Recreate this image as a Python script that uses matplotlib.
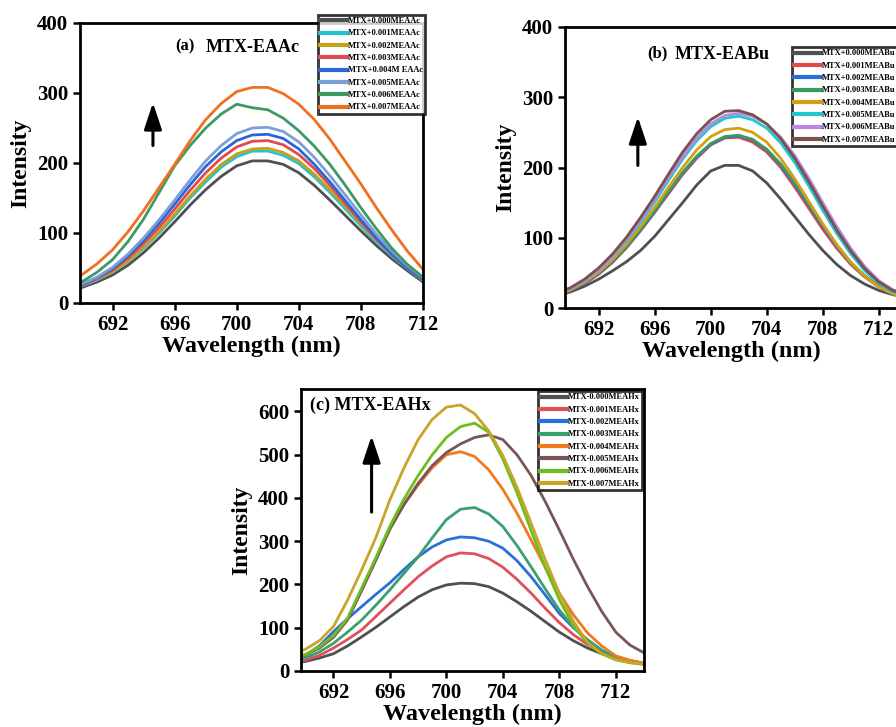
import numpy as np
import matplotlib
matplotlib.use('Agg')
import matplotlib.pyplot as plt

plt.rcParams['font.family'] = ['Liberation Serif', 'DejaVu Serif']
plt.rcParams['font.weight'] = 'bold'

# ---- panel (a): MTX-EAAc ----
wl_a = np.arange(689, 714)
a_labels = ['MTX+0.000MEAAc', 'MTX+0.001MEAAc', 'MTX+0.002MEAAc', 'MTX+0.003MEAAc',
            'MTX+0.004M EAAc', 'MTX+0.005MEAAc', 'MTX+0.006MEAAc', 'MTX+0.007MEAAc']
a_colors = ['#505050', '#22c4d0', '#c8a018', '#e04a50', '#2a66d6', '#7ba0d8', '#3e9a64', '#f07020']
a_000 = [15, 22, 30, 40, 54, 72, 93, 116, 140, 162, 181, 196, 203, 203, 198, 186, 168, 147, 125, 103, 82, 63, 46, 30, 20]
a_001 = [16, 24, 33, 44, 59, 78, 100, 124, 150, 173, 194, 209, 217, 217, 211, 199, 180, 158, 134, 110, 87, 67, 49, 32, 21]
a_002 = [17, 25, 34, 45, 60, 80, 102, 127, 153, 177, 198, 213, 220, 221, 215, 203, 184, 162, 138, 114, 90, 69, 50, 33, 22]
a_003 = [17, 25, 35, 47, 64, 85, 108, 134, 161, 186, 207, 223, 231, 232, 226, 212, 192, 168, 142, 116, 91, 69, 50, 33, 22]
a_004 = [18, 26, 36, 49, 67, 89, 114, 141, 169, 195, 216, 232, 240, 241, 235, 220, 198, 173, 146, 119, 93, 70, 50, 34, 23]
a_005 = [18, 27, 37, 51, 70, 93, 119, 147, 176, 203, 225, 242, 250, 251, 245, 230, 208, 182, 154, 126, 98, 74, 53, 36, 24]
a_006 = [22, 30, 44, 62, 88, 120, 158, 196, 225, 250, 270, 284, 279, 276, 264, 246, 224, 198, 168, 136, 106, 78, 55, 37, 26]
a_007 = [32, 40, 56, 76, 102, 132, 165, 198, 232, 262, 285, 302, 308, 308, 299, 284, 262, 234, 202, 170, 136, 104, 74, 48, 33]
a_series = [a_000, a_001, a_002, a_003, a_004, a_005, a_006, a_007]

# ---- panel (b): MTX-EABu ----
wl_b = np.arange(689, 715)
b_labels = ['MTX+0.000MEABu', 'MTX+0.001MEABu', 'MTX+0.002MEABu', 'MTX+0.003MEABu',
            'MTX+0.004MEABu', 'MTX+0.005MEABu', 'MTX+0.006MEABu', 'MTX+0.007MEABu']
b_colors = ['#505050', '#e04a4a', '#2a6fd8', '#3a9a60', '#d4a012', '#20c8cc', '#b888e0', '#7a5050']
b_000 = [17, 23, 31, 41, 53, 66, 82, 102, 126, 150, 175, 195, 203, 203, 195, 178, 155, 130, 105, 82, 62, 46, 34, 25, 19, 15]
b_001 = [18, 25, 35, 48, 65, 86, 110, 136, 163, 190, 213, 232, 242, 243, 236, 222, 200, 172, 142, 112, 85, 62, 44, 30, 21, 16]
b_002 = [18, 25, 35, 49, 66, 87, 111, 137, 165, 192, 215, 233, 243, 245, 239, 225, 203, 176, 146, 116, 88, 64, 45, 31, 21, 16]
b_003 = [19, 26, 36, 50, 67, 88, 112, 138, 166, 193, 216, 234, 244, 246, 240, 226, 205, 178, 148, 118, 90, 65, 46, 31, 21, 16]
b_004 = [19, 26, 37, 51, 69, 91, 116, 143, 172, 200, 225, 244, 254, 256, 250, 236, 213, 184, 152, 120, 90, 65, 45, 30, 20, 15]
b_005 = [20, 28, 39, 54, 73, 96, 122, 151, 182, 212, 238, 258, 270, 273, 268, 256, 235, 207, 174, 139, 106, 77, 53, 35, 23, 17]
b_006 = [20, 28, 39, 54, 74, 98, 125, 155, 186, 216, 242, 262, 274, 277, 273, 262, 243, 217, 185, 150, 116, 85, 59, 39, 26, 19]
b_007 = [21, 29, 41, 57, 77, 101, 129, 159, 191, 222, 248, 268, 280, 281, 275, 262, 241, 213, 180, 145, 111, 81, 56, 37, 25, 18]
b_series = [b_000, b_001, b_002, b_003, b_004, b_005, b_006, b_007]

# ---- panel (c): MTX-EAHx ----
wl_c = np.arange(689, 716)
c_labels = ['MTX-0.000MEAHx', 'MTX-0.001MEAHx', 'MTX-0.002MEAHx', 'MTX-0.003MEAHx',
            'MTX-0.004MEAHx', 'MTX-0.005MEAHx', 'MTX-0.006MEAHx', 'MTX-0.007MEAHx']
c_colors = ['#505050', '#e0505a', '#2a70d8', '#3aa070', '#f07a20', '#7a5555', '#6cbf1f', '#c8a42a']
c_000 = [18, 22, 30, 40, 58, 79, 101, 125, 149, 171, 188, 199, 203, 202, 195, 180, 160, 138, 114, 90, 70, 53, 40, 30, 22, 17, 14]
c_001 = [20, 25, 36, 53, 73, 95, 126, 157, 188, 218, 243, 264, 273, 271, 260, 240, 212, 180, 145, 112, 84, 61, 44, 32, 24, 18, 14]
c_002 = [26, 36, 58, 91, 121, 149, 177, 204, 235, 264, 287, 303, 310, 308, 300, 284, 255, 218, 176, 133, 100, 72, 48, 31, 22, 16, 12]
c_003 = [22, 30, 44, 64, 90, 118, 152, 188, 226, 264, 308, 350, 374, 378, 363, 334, 290, 241, 190, 141, 102, 72, 48, 31, 22, 16, 12]
c_004 = [28, 38, 55, 80, 120, 188, 258, 330, 385, 430, 470, 500, 507, 496, 465, 420, 365, 303, 240, 180, 130, 88, 58, 35, 25, 18, 14]
c_005 = [27, 37, 53, 78, 118, 186, 256, 328, 385, 434, 475, 505, 525, 540, 546, 535, 500, 452, 392, 326, 258, 195, 138, 90, 60, 42, 30]
c_006 = [28, 38, 56, 82, 122, 192, 262, 335, 398, 452, 500, 540, 565, 573, 552, 490, 412, 325, 240, 165, 105, 64, 40, 26, 19, 15, 12]
c_007 = [38, 50, 70, 103, 164, 234, 308, 396, 470, 535, 582, 610, 615, 595, 555, 498, 425, 342, 258, 180, 115, 66, 40, 26, 20, 16, 13]
c_series = [c_000, c_001, c_002, c_003, c_004, c_005, c_006, c_007]

W, H = 896, 727
fig = plt.figure(figsize=(W / 100, H / 100), dpi=100)


def px_axes(left, top, right, bottom):
    return fig.add_axes([left / W, 1 - bottom / H, (right - left) / W, (bottom - top) / H])


def style_axes(ax, xlim, ylim, yticks):
    ax.set_xlim(*xlim)
    ax.set_ylim(*ylim)
    ax.set_xticks([692, 696, 700, 704, 708, 712])
    ax.set_yticks(yticks)
    for sp in ax.spines.values():
        sp.set_linewidth(2)
    ax.tick_params(direction='out', length=5, width=1.8, labelsize=15)
    for lab in ax.get_xticklabels() + ax.get_yticklabels():
        lab.set_fontweight('bold')
    ax.set_xlabel('Wavelength (nm)', fontsize=17.5, fontweight='bold', labelpad=1)
    ax.set_ylabel('Intensity', fontsize=17, fontweight='bold', labelpad=4)


def draw(ax, wl, series, colors, labels, loc, anchor):
    for y, c, lab in zip(series, colors, labels):
        ax.plot(wl, y, color=c, lw=2, label=lab)
    leg = ax.legend(loc=loc, bbox_to_anchor=anchor, fontsize=6, frameon=True,
                    fancybox=False, edgecolor='black', handlelength=3.2,
                    handletextpad=0.1, labelspacing=0.52, borderpad=0.3,
                    borderaxespad=0)
    leg.get_frame().set_linewidth(2)
    for line in leg.get_lines():
        line.set_linewidth(3)
    return leg


def arrow(ax, x, y0, y1):
    ax.annotate('', xy=(x, y1), xytext=(x, y0),
                arrowprops=dict(arrowstyle='-|>,head_length=0.9,head_width=0.3',
                                lw=2.2, color='black', mutation_scale=18))


# (a)
ax_a = px_axes(80, 23, 423, 303)
style_axes(ax_a, (689.9, 712.0), (0, 400), [0, 100, 200, 300, 400])
draw(ax_a, wl_a, a_series, a_colors, a_labels, 'upper right', (1.006, 1.03))
ax_a.text(0.277, 0.918, '(a)', transform=ax_a.transAxes, fontsize=12, fontweight='bold', va='center')
ax_a.text(0.365, 0.912, 'MTX-EAAc', transform=ax_a.transAxes, fontsize=13, fontweight='bold', va='center')
arrow(ax_a, 694.6, 221, 290)

# (b)
ax_b = px_axes(565, 27, 897, 308)
style_axes(ax_b, (689.6, 713.3), (0, 400), [0, 100, 200, 300, 400])
draw(ax_b, wl_b, b_series, b_colors, b_labels, 'upper left', (0.683, 0.929))
ax_b.text(0.248, 0.907, '(b)', transform=ax_b.transAxes, fontsize=12, fontweight='bold', va='center')
ax_b.text(0.33, 0.903, 'MTX-EABu', transform=ax_b.transAxes, fontsize=13, fontweight='bold', va='center')
arrow(ax_b, 694.8, 199, 276)

# (c)
ax_c = px_axes(301, 389, 644, 671)
style_axes(ax_c, (689.7, 714.0), (0, 652), [0, 100, 200, 300, 400, 500, 600])
draw(ax_c, wl_c, c_series, c_colors, c_labels, 'upper right', (0.994, 0.993))
ax_c.text(0.026, 0.943, '(c) MTX-EAHx', transform=ax_c.transAxes, fontsize=13, fontweight='bold', va='center')
arrow(ax_c, 694.7, 361, 550)

fig.savefig('out.png', dpi=100)
